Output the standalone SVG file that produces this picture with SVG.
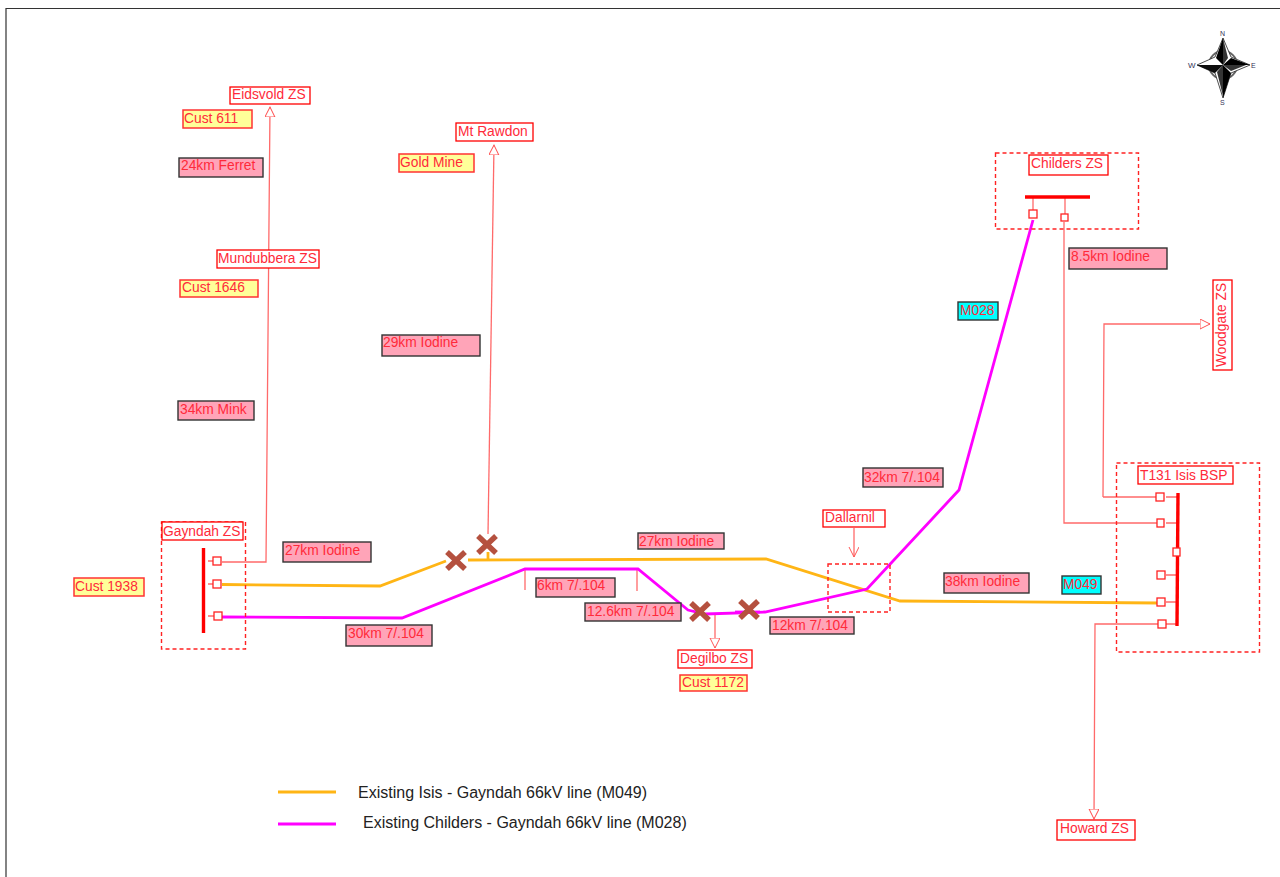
<svg xmlns="http://www.w3.org/2000/svg" width="1280" height="877" viewBox="0 0 1280 877">
<style>
text{font-family:"Liberation Sans",Arial,sans-serif;font-size:13.8px;fill:#ff2a3a}
.legend{font-size:16px;fill:#222}
.c{fill:#fff;stroke:#f00;stroke-width:1.3}
.y{fill:#ffff99;stroke:#f33;stroke-width:1.5}
.p{fill:#ffa4b8;stroke:#333;stroke-width:1.4}
.m{fill:#00ffff;stroke:#333;stroke-width:1.4}
.d{fill:none;stroke:#f22;stroke-width:1.4;stroke-dasharray:4 3}
.t{fill:none;stroke:#ff6a6a;stroke-width:1.3}
.o{fill:none;stroke:#ffb515;stroke-width:2.8}
.g{fill:none;stroke:#f0f;stroke-width:2.8}
.b{fill:none;stroke:#f00;stroke-width:3.4}
.s{fill:#fff;stroke:#f22;stroke-width:1.3}
.x{stroke:#b5513f;stroke-width:5.500;fill:none}
</style>
<defs>
<marker id="h" markerWidth="12" markerHeight="12" refX="10" refY="5" orient="auto" markerUnits="userSpaceOnUse"><path d="M0 0L10 5L0 10Z" fill="#fff" stroke="#ff5555"/></marker>
<marker id="v" markerWidth="12" markerHeight="12" refX="10" refY="5" orient="auto" markerUnits="userSpaceOnUse"><path d="M0 0L10 5L0 10" fill="none" stroke="#ff5555"/></marker>
</defs>
<path d="M6 877V8.500H1280" fill="none" stroke="#333" stroke-width="1.200"/>
<g id="connectors">
<path class="t" d="M222 562H266L270 107" marker-end="url(#h)"/>
<path class="t" d="M488 534L494 145" marker-end="url(#h)"/>
<path class="t" d="M1064 222V523H1157"/>
<path class="t" d="M1103 497H1156M1103 497L1104 324H1210" marker-end="url(#h)"/>
<path class="t" d="M1158 624H1095L1094 819" marker-end="url(#h)"/>
<path class="t" d="M854 528V557" marker-end="url(#v)"/>
<path class="t" d="M715 615V648" marker-end="url(#h)"/>
<path class="t" d="M1033 197V210M1065 197V214M1166 497H1177M1166 523H1177M1166 575H1177M1166 602H1177M1166 624H1177M208 561H213M208 584H213M208 616H214"/>
<path class="t" d="M525 569V590M637 569V591"/>
<path class="o" d="M222 584.500L380 586L446 561M468 560L766 559L900 601L1158 603"/>
<path class="o" d="M488 552V560"/>
<path class="g" d="M222 617L402 618L525 569H638L688 610L705 614L765 612L867 589L959 490L1033 220"/>
<path class="g" d="M735 612H760"/>
<path class="o" d="M278 792H336"/>
<path class="g" d="M278 824H336"/>
</g>
<g id="gayndah"><rect class="d" x="161.500" y="522" width="84" height="127"/><rect class="c" x="162" y="522" width="81" height="18"/><text x="163" y="536">Gayndah ZS</text><path class="b" d="M203.500 548V633"/><rect class="s" x="213" y="557" width="8" height="8"/><rect class="s" x="213" y="580" width="8" height="8"/><rect class="s" x="214" y="612" width="8" height="8"/></g>
<g id="isis"><rect class="d" x="1116.500" y="463" width="143" height="189"/><rect class="c" x="1138" y="466" width="95" height="18"/><text x="1140" y="480">T131 Isis BSP</text><path class="b" d="M1178 493L1177 626"/><rect class="s" x="1156" y="493" width="8" height="8"/><rect class="s" x="1157" y="519" width="7" height="8"/><rect class="s" x="1173" y="548" width="7" height="8"/><rect class="s" x="1157" y="571" width="8" height="8"/><rect class="s" x="1157" y="598" width="8" height="8"/><rect class="s" x="1158" y="620" width="8" height="8"/></g>
<g id="childers"><rect class="d" x="995.500" y="153" width="143" height="76"/><rect class="c" x="1029" y="155" width="79" height="20"/><text x="1031" y="168">Childers ZS</text><path class="b" d="M1025 197H1090"/><rect class="s" x="1029" y="210" width="8" height="8"/><rect class="s" x="1061" y="214" width="7" height="7"/></g>
<g id="dallarnil"><rect class="d" x="828" y="564" width="62" height="48"/><rect class="c" x="823" y="510" width="62" height="17"/><text x="825" y="522">Dallarnil</text></g>
<g id="eidsvold"><rect class="c" x="230" y="87" width="80" height="17"/><text x="232" y="99">Eidsvold ZS</text></g>
<g id="mt-rawdon"><rect class="c" x="456" y="123" width="77" height="18"/><text x="458" y="136">Mt Rawdon</text></g>
<g id="mundubbera"><rect class="c" x="217" y="250" width="102" height="18"/><text x="218" y="263">Mundubbera ZS</text></g>
<g id="degilbo"><rect class="c" x="678" y="650" width="74" height="18"/><text x="680" y="663">Degilbo ZS</text></g>
<g id="howard"><rect class="c" x="1057" y="820" width="78" height="20"/><text x="1060" y="833">Howard ZS</text></g>
<g id="woodgate"><rect class="c" x="1213" y="280" width="19" height="90"/><text transform="translate(1226 367) rotate(-90)" x="0" y="0">Woodgate ZS</text></g>
<g id="cust-611"><rect class="y" x="183" y="110" width="69" height="18"/><text x="184" y="123">Cust 611</text></g>
<g id="gold-mine"><rect class="y" x="399" y="154" width="75" height="18"/><text x="400" y="167">Gold Mine</text></g>
<g id="cust-1646"><rect class="y" x="180" y="280" width="78" height="17"/><text x="182" y="292">Cust 1646</text></g>
<g id="cust-1938"><rect class="y" x="74" y="578" width="70" height="18"/><text x="75" y="591">Cust 1938</text></g>
<g id="cust-1172"><rect class="y" x="680" y="675" width="67" height="16"/><text x="682" y="687">Cust 1172</text></g>
<g id="l24"><rect class="p" x="179" y="158" width="84" height="19"/><text x="181" y="170">24km Ferret</text></g>
<g id="l29"><rect class="p" x="382" y="335" width="98" height="21"/><text x="383" y="347">29km Iodine</text></g>
<g id="l34"><rect class="p" x="178" y="401" width="76" height="19"/><text x="180" y="414">34km Mink</text></g>
<g id="l27a"><rect class="p" x="283" y="542" width="88" height="20"/><text x="285" y="555">27km Iodine</text></g>
<g id="l30"><rect class="p" x="346" y="625" width="86" height="21"/><text x="348" y="638">30km 7/.104</text></g>
<g id="l6"><rect class="p" x="536" y="578" width="79" height="19"/><text x="537" y="590">6km 7/.104</text></g>
<g id="l126"><rect class="p" x="585" y="603" width="96" height="18"/><text x="587" y="616">12.6km 7/.104</text></g>
<g id="l27b"><rect class="p" x="638" y="533" width="86" height="16"/><text x="639" y="546">27km Iodine</text></g>
<g id="l12"><rect class="p" x="770" y="617" width="84" height="17"/><text x="772" y="630">12km 7/.104</text></g>
<g id="l32"><rect class="p" x="863" y="468" width="80" height="19"/><text x="864" y="482">32km 7/.104</text></g>
<g id="l38"><rect class="p" x="944" y="573" width="85" height="20"/><text x="945" y="586">38km Iodine</text></g>
<g id="l85"><rect class="p" x="1069" y="248" width="98" height="21"/><text x="1071" y="261">8.5km Iodine</text></g>
<g id="m028"><rect class="m" x="958" y="302" width="40" height="18"/><text x="960" y="315">M028</text></g>
<g id="m049"><rect class="m" x="1062" y="576" width="39" height="18"/><text x="1063" y="589">M049</text></g>
<g id="crosses"><path class="x" d="M447 552L465 569M465 552L447 569M478 536L496 553M496 536L478 553M691 603L709 620M709 603L691 620M740 601L758 618M758 601L740 618"/></g>
<g id="legend"><text class="legend" x="358" y="798">Existing Isis - Gayndah 66kV line (M049)</text><text class="legend" x="363" y="828">Existing Childers - Gayndah 66kV line (M028)</text></g>
<g id="compass"><circle cx="1223" cy="65" r="14" fill="none" stroke="#666" stroke-width="2"/><path d="M1223 38L1231 57L1250 65L1231 73L1223 98L1215 73L1197 65L1215 57Z" fill="#fff" stroke="#222" stroke-width=".8"/><path d="M1223 38L1216 58L1223 65ZM1223 65L1250 65L1231 58ZM1223 65L1231 73L1223 98ZM1223 65L1197 65L1215 73Z" fill="#000"/><path d="M1223 65V38L1228 58ZM1223 65H1197L1215 72ZM1223 65L1246 65L1231 71ZM1223 65V96L1217 72Z" fill="#111" opacity=".85"/><text x="1220" y="36" style="font-size:7px;fill:#335">N</text><text x="1188" y="68" style="font-size:8px;fill:#335">W</text><text x="1251" y="68" style="font-size:7px;fill:#335">E</text><text x="1220" y="105" style="font-size:7px;fill:#335">S</text></g>
</svg>
